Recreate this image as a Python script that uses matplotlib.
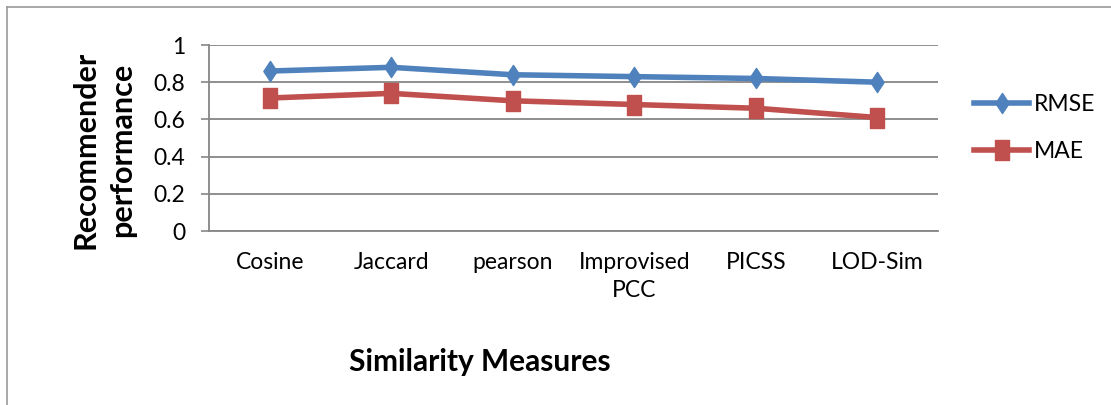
import numpy as np
import matplotlib.pyplot as plt
from matplotlib.path import Path
from matplotlib.lines import Line2D

plt.rcParams['font.family'] = ['Lato', 'DejaVu Sans']

measures = ['Cosine', 'Jaccard', 'pearson', 'Improvised\nPCC', 'PICSS', 'LOD-Sim']
rmse = [0.86, 0.88, 0.84, 0.83, 0.82, 0.80]
mae = [0.715, 0.74, 0.70, 0.68, 0.66, 0.61]
y_ticks = [0, 0.2, 0.4, 0.6, 0.8, 1]
y_tick_labels = ['0', '0.2', '0.4', '0.6', '0.8', '1']

# markers are a bit taller than wide, like the stretched excel ones
w = 0.33
tall_square = Path([(-w, -0.5), (w, -0.5), (w, 0.5), (-w, 0.5), (-w, -0.5)],
                   [Path.MOVETO, Path.LINETO, Path.LINETO, Path.LINETO, Path.CLOSEPOLY])
tall_diamond = Path([(0, -0.5), (w, 0), (0, 0.5), (-w, 0), (0, -0.5)],
                    [Path.MOVETO, Path.LINETO, Path.LINETO, Path.LINETO, Path.CLOSEPOLY])

fig = plt.figure(figsize=(11.11, 4.05), dpi=100)
ax = fig.add_axes([209 / 1111, 1 - 231 / 405, 729 / 1111, 186 / 405])

x = np.arange(len(measures))
ax.plot(x, rmse, color='#4F81BD', lw=4, marker=tall_diamond, ms=14.5,
        label='RMSE', zorder=3)
ax.plot(x, mae, color='#C0504D', lw=4, marker=tall_square, ms=14.5,
        label='MAE', zorder=3)

ax.set_xlim(-0.5, len(measures) - 0.5)
ax.set_ylim(0, 1)
ax.set_yticks(y_ticks)
ax.set_yticklabels(y_tick_labels)
ax.set_xticks(x)
ax.set_xticklabels(measures, linespacing=1.45)
ax.tick_params(axis='x', length=0, pad=15, labelsize=16.5)
ax.tick_params(axis='y', length=6, width=1.2, color='#868686', pad=11, labelsize=16.5)

ax.grid(axis='y', color='#868686', lw=1.3)
ax.set_axisbelow(True)
for side in ['top', 'right']:
    ax.spines[side].set_visible(False)
for side in ['left', 'bottom']:
    ax.spines[side].set_color('#868686')
    ax.spines[side].set_linewidth(1.3)

fig.text(104 / 1111, 1 - 150 / 405, 'Recommender\nperformance', rotation=90,
         ha='center', va='center', fontsize=22, fontweight='bold', linespacing=1.4)
fig.text(480 / 1111, 1 - 362 / 405, 'Similarity Measures', ha='center', va='center',
         fontsize=21.5, fontweight='bold')

ax.legend(loc='center left', bbox_to_anchor=(974 / 1111, 1 - 128 / 405),
          bbox_transform=fig.transFigure, frameon=False, fontsize=16.5,
          handlelength=2.4, handletextpad=0.2, labelspacing=1.15,
          borderpad=0, borderaxespad=0)

# chart area border
fig.add_artist(Line2D([7 / 1111, 1], [1 - 7 / 405, 1 - 7 / 405], color='#9a9a9a', lw=1.2))
fig.add_artist(Line2D([7 / 1111, 7 / 1111], [0, 1 - 7 / 405], color='#9a9a9a', lw=1.2))

fig.savefig('out.png', dpi=100)
